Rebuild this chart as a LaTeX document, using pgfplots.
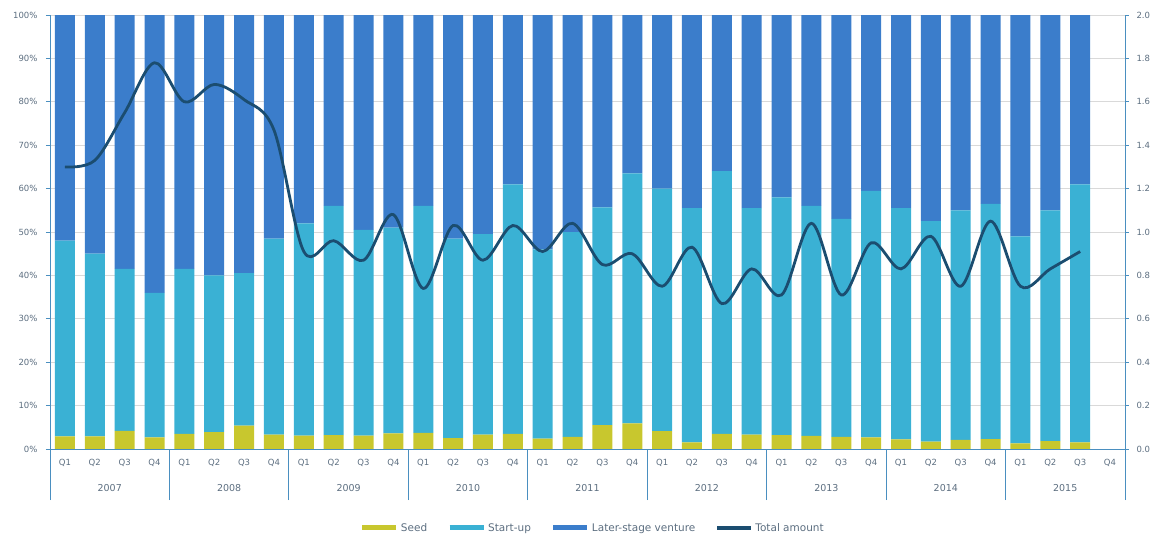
\documentclass[border=0pt]{standalone}
\usepackage{pgfplots}
\pgfplotsset{compat=1.18}
\usepackage{pgfplotstable}
\usepackage{fontspec}
\setmainfont{DejaVu Sans}
\definecolor{seedc}{HTML}{C8C72E}
\definecolor{startc}{HTML}{3AB1D4}
\definecolor{laterc}{HTML}{3B7DCB}
\definecolor{linec}{HTML}{1B4D70}
\definecolor{axc}{HTML}{4A8FC0}
\definecolor{txtc}{HTML}{5C6E80}
\pgfplotsset{/pgf/number format/assume math mode=true,
  myleg/.style={legend image code/.code={\draw[##1, line width=5pt] (0pt,0pt) -- (34pt,0pt);}}}
\pgfplotstableread{
x seed startup later total
0 2.9 45.1 52.0 1.30
1 2.9 42.1 55.0 1.33
2 4.2 37.3 58.5 1.55
3 2.7 33.3 64.0 1.78
4 3.5 38.0 58.5 1.60
5 3.9 36.1 60.0 1.68
6 5.4 35.1 59.5 1.61
7 3.3 45.2 51.5 1.47
8 3.1 48.9 48.0 0.91
9 3.2 52.8 44.0 0.96
10 3.1 47.4 49.5 0.87
11 3.6 47.4 49.0 1.08
12 3.7 52.3 44.0 0.74
13 2.5 46.0 51.5 1.03
14 3.3 46.2 50.5 0.87
15 3.5 57.5 39.0 1.03
16 2.4 43.6 54.0 0.91
17 2.8 47.2 50.0 1.04
18 5.5 50.2 44.3 0.85
19 5.9 57.6 36.5 0.90
20 4.1 55.9 40.0 0.75
21 1.5 54.0 44.5 0.93
22 3.5 60.5 36.0 0.67
23 3.3 52.2 44.5 0.83
24 3.2 54.8 42.0 0.71
25 3.0 53.0 44.0 1.04
26 2.8 50.2 47.0 0.71
27 2.7 56.8 40.5 0.95
28 2.2 53.3 44.5 0.83
29 1.7 50.8 47.5 0.98
30 2.1 52.9 45.0 0.75
31 2.3 54.2 43.5 1.05
32 1.3 47.7 51.0 0.75
33 1.8 53.2 45.0 0.83
34 1.5 59.5 39.0 0.91
}\data
\begin{document}
\begin{tikzpicture}
\begin{axis}[name=main, scale only axis, width=1075pt, height=434pt,
  xmin=-0.5, xmax=35.5, ymin=0, ymax=100,
  ybar stacked, bar width=20pt,
  xtick={0,...,35},
  xticklabels={Q1,Q2,Q3,Q4,Q1,Q2,Q3,Q4,Q1,Q2,Q3,Q4,Q1,Q2,Q3,Q4,Q1,Q2,Q3,Q4,Q1,Q2,Q3,Q4,Q1,Q2,Q3,Q4,Q1,Q2,Q3,Q4,Q1,Q2,Q3,Q4},
  xtick style={draw=none},
  minor xtick={-0.5,0.5,...,35.5}, minor tick length=24pt,
  minor tick style={axc, line width=0.8pt},
  ytick={0,10,...,100},
  yticklabel={\pgfmathprintnumber{\tick}\%},
  ymajorgrids, grid style={black!15, line width=0.7pt},
  axis y line*=left, axis x line*=bottom,
  tick align=outside, major tick length=4pt,
  axis line style={axc, line width=0.8pt}, tick style={axc, line width=0.8pt},
  yticklabel style={font=\fontsize{8.5}{10}\selectfont, text=txtc, xshift=-5pt},
  xticklabel style={font=\fontsize{8.5}{10}\selectfont, text=txtc, yshift=-3pt},
  legend columns=4,
  legend style={at={(0.505,-0.182)}, anchor=center, draw=none, fill=none,
    font=\fontsize{10.5}{12}\selectfont, text=txtc,
    /tikz/every even column/.append style={column sep=18pt}},
]
\addplot[fill=seedc, draw=none, forget plot] table[x=x, y=seed] {\data};
\addplot[fill=startc, draw=none, forget plot] table[x=x, y=startup] {\data};
\addplot[fill=laterc, draw=none, forget plot] table[x=x, y=later] {\data};
\addlegendimage{myleg, seedc}
\addlegendentry{Seed}
\addlegendimage{myleg, startc}
\addlegendentry{Start-up}
\addlegendimage{myleg, laterc}
\addlegendentry{Later-stage venture}
\addlegendimage{legend image code/.code={\draw[linec, line width=4pt] (0pt,0pt) -- (34pt,0pt);}}
\addlegendentry{Total amount}
\end{axis}
\begin{axis}[scale only axis, width=1075pt, height=434pt,
  xmin=-0.5, xmax=35.5, ymin=0, ymax=2,
  axis x line=none, axis y line*=right,
  ytick={0,0.2,...,2.0},
  tick align=outside, major tick length=4pt,
  axis line style={axc, line width=0.8pt}, tick style={axc, line width=0.8pt},
  yticklabel style={font=\fontsize{8.5}{10}\selectfont, text=txtc, xshift=4pt,
    /pgf/number format/.cd, fixed, fixed zerofill, precision=1},
]
\addplot[linec, line width=2.8pt, smooth, tension=0.55] table[x=x, y=total] {\data};
\end{axis}
\begin{axis}[scale only axis, width=1075pt, height=434pt,
  xmin=-0.5, xmax=35.5, ymin=0, ymax=1,
  axis y line=none, axis x line*=bottom,
  xtick={-0.5,3.5,...,35.5},
  xticklabels={2007,2008,2009,2010,2011,2012,2013,2014,2015,{}},
  tick align=outside, major tick length=51pt,
  axis line style={axc, line width=0.8pt}, tick style={axc, line width=0.8pt},
  xticklabel style={font=\fontsize{9.5}{11}\selectfont, text=txtc, xshift=59.72pt, yshift=19pt},
]
\addplot[draw=none] coordinates {(0,0)};
\end{axis}
\pgfresetboundingbox
\path (main.south west) ++(-50pt,-90pt) rectangle ++(1165pt,539pt);
\end{tikzpicture}
\end{document}
